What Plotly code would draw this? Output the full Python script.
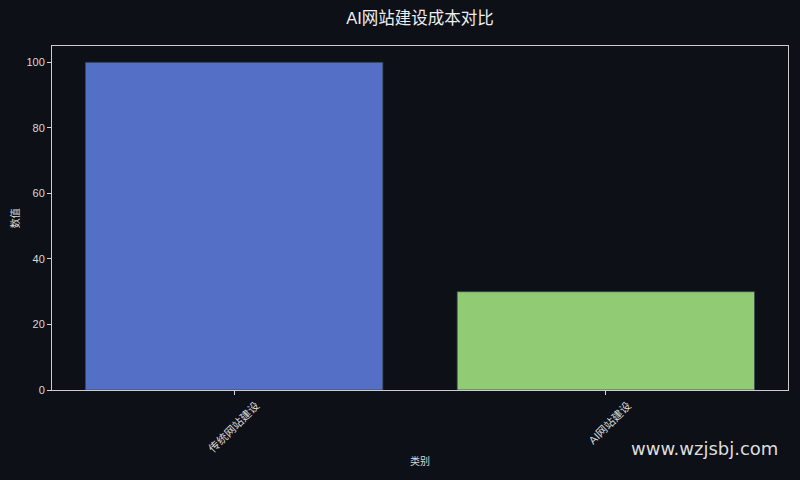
import plotly.graph_objects as go

categories = ["传统网站建设", "AI网站建设"]
values = [100, 30]
bar_colors = ["#5470c6", "#91cc75"]
y_ticks = [0, 20, 40, 60, 80, 100]

bg = "#0d1017"
fg = "#d8d8d8"
font_family = "Liberation Sans, Noto Sans CJK SC, sans-serif"

fig = go.Figure()
fig.add_trace(go.Bar(
    x=[0, 1], y=values, width=0.8,
    marker=dict(color=bar_colors, line=dict(color="#3e4650", width=0.8)),
    showlegend=False,
))

fig.update_layout(
    width=800, height=480,
    paper_bgcolor=bg, plot_bgcolor=bg,
    margin=dict(l=52, r=12, t=46, b=90),
    font=dict(family=font_family, color=fg, size=11),
    title=dict(text="AI网站建设成本对比", xref="paper", x=0.5, xanchor="center",
               y=0.962, yanchor="middle",
               font=dict(size=16.5, color="#eeeeee", family=font_family)),
)
fig.update_xaxes(
    range=[-0.49, 1.49], tickmode="array", tickvals=[0, 1], ticktext=categories,
    tickangle=-45, ticks="outside", ticklen=4, tickcolor=fg, ticklabelshift=22,
    showline=True, linecolor="#cccccc", linewidth=1, mirror=True,
    showgrid=False, zeroline=False, tickfont=dict(size=11, color=fg),
)
fig.update_yaxes(
    range=[0, 105], tickvals=y_ticks, ticks="outside", ticklen=4, tickcolor=fg,
    showline=True, linecolor="#cccccc", linewidth=1, mirror=True,
    showgrid=False, zeroline=False, tickfont=dict(size=11, color=fg),
)

fig.add_annotation(text="类别", xref="paper", yref="paper", x=0.5, y=-0.207,
                   showarrow=False, font=dict(size=10, color=fg), xanchor="center", yanchor="middle")
fig.add_annotation(text="数值", xref="paper", yref="paper", x=-0.05, y=0.5, textangle=-90,
                   showarrow=False, font=dict(size=10, color=fg), xanchor="center", yanchor="middle")
fig.add_annotation(text="www.wzjsbj.com", xref="paper", yref="paper", x=0.989, y=-0.169,
                   showarrow=False, font=dict(size=18, color="#dddddd", family="DejaVu Sans, sans-serif"),
                   xanchor="right", yanchor="middle")

fig.write_html("out.html", config={"displayModeBar": False},
               post_script="document.body.style.margin='0';")
